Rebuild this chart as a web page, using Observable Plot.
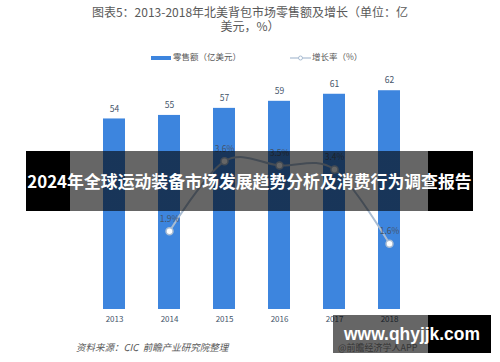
<!DOCTYPE html>
<html><head><meta charset="utf-8">
<script src="https://cdn.jsdelivr.net/npm/d3@7"></script>
<script src="https://cdn.jsdelivr.net/npm/@observablehq/plot@0.6"></script>
<style>
html,body{margin:0;padding:0;background:#fff;}
#wrap{position:relative;width:500px;height:362px;overflow:hidden;font-family:"Noto Sans CJK SC","Noto Sans",sans-serif;}
#chart{position:absolute;left:0;top:0;}
.abs{position:absolute;white-space:nowrap;}
#title{left:0;width:500px;top:5px;text-align:center;font-size:12px;line-height:14px;color:#595959;}
.leg{font-size:8.5px;color:#595959;top:50px;line-height:12px;}
#caption{left:76px;top:340px;font-size:9.5px;font-style:italic;color:#595959;}
#app{left:338px;top:341px;font-size:9px;color:#888;}
#banner{left:26px;top:151px;width:447px;height:60px;
 background:linear-gradient(to right,#000 0,#000 44px,rgba(0,0,0,.6) 44px,rgba(0,0,0,.6) 402px,#000 402px);
 color:#fff;font-weight:bold;line-height:60px;text-align:center;}
#site{left:333px;top:315px;width:158px;height:38px;
 background:linear-gradient(to right,rgba(0,0,0,.6) 0,rgba(0,0,0,.6) 95px,#000 95px);
 color:#fff;font-weight:bold;line-height:38px;text-align:center;font-family:"Liberation Sans",Arial,sans-serif;}
</style></head>
<body>
<div id="wrap">
  <div id="chart"></div>
  <div id="title" class="abs">图表5：2013-2018年北美背包市场零售额及增长（单位：亿<br>美元，%）</div>
  <div class="abs leg" style="left:151px;"><span style="display:inline-block;width:20px;height:4px;background:#3d85de;vertical-align:middle;margin-right:2px;"></span>零售额（亿美元）</div>
  <div class="abs leg" style="left:290px;"><svg width="21" height="8" style="vertical-align:middle;margin-right:1px;"><line x1="0" y1="4" x2="21" y2="4" stroke="#a9bcd2" stroke-width="1.2"/><circle cx="10.5" cy="4" r="2" fill="#fff" stroke="#a9bcd2"/></svg>增长率（%）</div>
  <div id="caption" class="abs">资料来源：CIC &nbsp;前瞻产业研究院整理</div>
  <div id="app" class="abs">@前瞻经济学人APP</div>
  <div id="banner" class="abs"><span id="bannerText">2024年全球运动装备市场发展趋势分析及消费行为调查报告</span></div>
  <div id="site" class="abs"><span id="siteText">www.qhyjjk.com</span></div>
</div>
<script>
const years = ["2013", "2014", "2015", "2016", "2017", "2018"];
const sales = [54, 55, 57, 59, 61, 62];
const growthYears = ["2014", "2015", "2016", "2017", "2018"];
const growth = [1.9, 3.6, 3.5, 3.4, 1.6];

const salesMax = 70;   // primary axis max
const growthMax = 6;   // secondary axis max (%)

const salesData = years.map((y, i) => ({year: y, value: sales[i]}));
const growthData = growthYears.map((y, i) => ({year: y, g: growth[i]}));
const gy = d => d.g * salesMax / growthMax;

const chart = Plot.plot({
  width: 500, height: 362,
  marginLeft: 69, marginRight: 67, marginTop: 62, marginBottom: 53,
  x: {domain: years, padding: 0.6, label: null, tickSize: 0, tickPadding: 7},
  y: {domain: [0, salesMax], axis: null},
  style: {fontFamily: '"Noto Sans CJK SC","Noto Sans",sans-serif', fontSize: "8px", color: "#44546a", background: "transparent"},
  marks: [
    Plot.barY(salesData, {x: "year", y: "value", fill: "#3d85de"}),
    Plot.text(salesData, {x: "year", y: "value", text: d => String(d.value), dy: -10, fill: "#44546a", fontSize: 8.5}),
    Plot.line(growthData, {x: "year", y: gy, curve: "cardinal", stroke: "#a9bcd2", strokeWidth: 2}),
    Plot.dot(growthData, {x: "year", y: gy, r: 3.5, fill: "white", stroke: "#a9bcd2", strokeWidth: 1.5}),
    Plot.text(growthData, {x: "year", y: gy, text: d => d.g + "%", dy: -12, fill: "#44546a", fontSize: 8.5})
  ]
});
document.getElementById("chart").appendChild(chart);

function fit(id, target, base) {
  const el = document.getElementById(id);
  el.style.fontSize = base + "px";
  const w = el.getBoundingClientRect().width;
  el.style.fontSize = (base * target / w).toFixed(2) + "px";
}
fit("bannerText", 445, 17);
fit("siteText", 136, 18);
</script>
</body></html>
